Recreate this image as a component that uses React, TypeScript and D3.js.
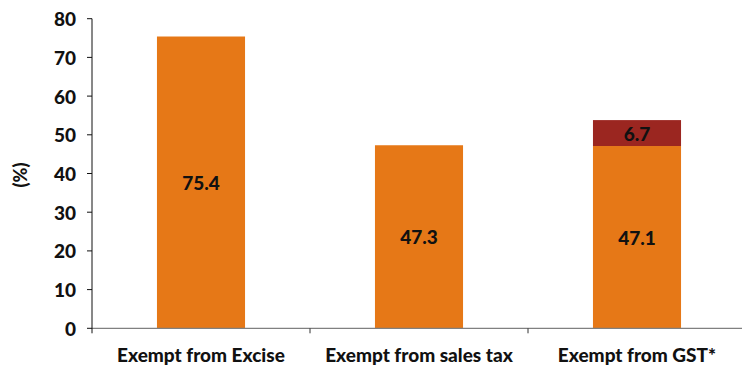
import React from "react";
import * as d3 from "d3";

const categories = ["Exempt from Excise", "Exempt from sales tax", "Exempt from GST*"];
const baseValues = [75.4, 47.3, 47.1];
const topValues = [0, 0, 6.7];
const yTicks = [0, 10, 20, 30, 40, 50, 60, 70, 80];

const W = 742, H = 372;
const left = 92, right = 746, top = 18.7, bottom = 328.3;
const FONT = "Lato, 'Open Sans', sans-serif";

export default function App() {
  const x = d3.scaleBand<string>().domain(categories).range([left, right]).paddingInner(0.596).paddingOuter(0.298);
  const y = d3.scaleLinear().domain([0, 80]).range([bottom, top]);
  const band = d3.scaleBand<string>().domain(categories).range([left, right]);
  return (
    <svg width={W} height={H} style={{ position: "absolute", left: 0, top: 0 }} fontFamily={FONT}>
      <rect width={W} height={H} fill="#fff" />
      {categories.map((c, i) => {
        const x0 = x(c)!;
        const bw = x.bandwidth();
        const cx = x0 + bw / 2;
        return (
          <g key={c}>
            <rect x={x0} y={y(baseValues[i])} width={bw} height={y(0) - y(baseValues[i])} fill="#E67817" />
            <text x={cx} y={(y(0) + y(baseValues[i])) / 2} textAnchor="middle" dominantBaseline="central" fontSize={19} fontWeight={900} fill="#111">{baseValues[i].toFixed(1)}</text>
            {topValues[i] > 0 && (
              <g>
                <rect x={x0} y={y(baseValues[i] + topValues[i])} width={bw} height={y(baseValues[i]) - y(baseValues[i] + topValues[i])} fill="#9B2620" />
                <text x={cx} y={(y(baseValues[i]) + y(baseValues[i] + topValues[i])) / 2} textAnchor="middle" dominantBaseline="central" fontSize={19} fontWeight={900} fill="#111">{topValues[i].toFixed(1)}</text>
              </g>
            )}
            <text x={cx} y={362} textAnchor="middle" fontSize={19} fontWeight={900} fill="#111">{c}</text>
          </g>
        );
      })}
      <line x1={left} x2={W} y1={bottom} y2={bottom} stroke="#808080" strokeWidth={1.2} />
      {categories.slice(1).map((c) => (
        <line key={c} x1={band(c)!} x2={band(c)!} y1={bottom} y2={bottom + 5} stroke="#333" />
      ))}
      <line x1={left} x2={left} y1={top} y2={bottom + 5} stroke="#111" strokeWidth={1} />
      {yTicks.map((t) => (
        <g key={t}>
          <line x1={left - 5} x2={left} y1={y(t)} y2={y(t)} stroke="#111" />
          <text x={left - 16} y={y(t)} textAnchor="end" dominantBaseline="central" fontSize={19} fontWeight={900} fill="#111">{t}</text>
        </g>
      ))}
      <text transform={`translate(20,175) rotate(-90)`} textAnchor="middle" dominantBaseline="central" fontSize={18} fontWeight={900} fill="#111">(%)</text>
    </svg>
  );
}
